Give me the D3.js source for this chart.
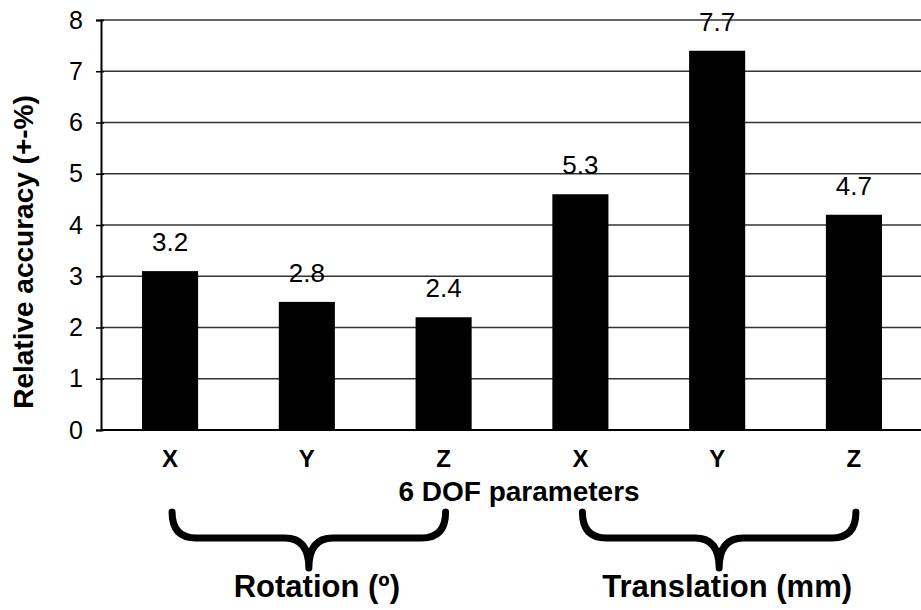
<!DOCTYPE html>
<html>
<head>
<meta charset="utf-8">
<script src="https://cdn.jsdelivr.net/npm/d3@7"></script>
<style>
  html, body { margin: 0; padding: 0; background: #fff; }
  svg text { fill: #000; }
</style>
</head>
<body>
<div id="chart"></div>
<script>
// 6 DOF parameters (rotation x/y/z, translation x/y/z)
const params = ['rotX', 'rotY', 'rotZ', 'transX', 'transY', 'transZ']
const axisLabels = ['X', 'Y', 'Z', 'X', 'Y', 'Z']
// bar heights as drawn, and the printed labels above them
const barValues = [3.1, 2.5, 2.2, 4.6, 7.4, 4.2]
const valueLabels = ['3.2', '2.8', '2.4', '5.3', '7.7', '4.7']
const yTicks = [0, 1, 2, 3, 4, 5, 6, 7, 8]
// parameter groups under the axis
const groupNames = ['Rotation (º)', 'Translation (mm)']
const groupFirst = ['rotX', 'transX']
const groupLast = ['rotZ', 'transZ']

const width = 921
const height = 610
const margin = { top: 20, right: 0, bottom: 180, left: 101 }
const font = '"Liberation Sans", Arial, sans-serif'

const svg = d3.select('#chart')
  .append('svg')
  .attr('width', width)
  .attr('height', height)

const x = d3.scaleBand()
  .domain(params)
  .range([margin.left, margin.left + 6 * 137])
  .paddingInner(0.59)
  .paddingOuter(0.3)

const y = d3.scaleLinear()
  .domain([0, 8])
  .range([height - margin.bottom, margin.top])

const center = d => x(d) + x.bandwidth() / 2

// 网格线
svg.append('g')
  .selectAll('line')
  .data(yTicks.filter(d => d > 0))
  .enter()
  .append('line')
  .attr('x1', margin.left)
  .attr('x2', width)
  .attr('y1', d => y(d))
  .attr('y2', d => y(d))
  .attr('stroke', '#333')
  .attr('stroke-width', 1.3)

// y轴
const yAxis = svg.append('g')
  .attr('transform', `translate(${margin.left},0)`)
  .call(d3.axisLeft(y).tickValues(yTicks).tickSize(5).tickPadding(13))
yAxis.select('.domain').attr('stroke', '#000').attr('stroke-width', 2)
yAxis.selectAll('.tick line')
  .attr('x1', 3)
  .attr('x2', -5)
  .attr('stroke', '#000')
  .attr('stroke-width', 1.5)
yAxis.selectAll('.tick text')
  .attr('fill', '#000')
  .style('font-family', font)
  .style('font-size', '25px')

// 柱子
svg.append('g')
  .selectAll('rect')
  .data(params)
  .enter()
  .append('rect')
  .attr('x', d => x(d))
  .attr('width', x.bandwidth())
  .attr('y', (d, i) => y(barValues[i]))
  .attr('height', (d, i) => y(0) - y(barValues[i]))
  .attr('fill', '#000')

// 柱顶数值
svg.append('g')
  .selectAll('text')
  .data(params)
  .enter()
  .append('text')
  .attr('x', center)
  .attr('y', (d, i) => y(barValues[i]) - 20)
  .attr('text-anchor', 'middle')
  .style('font-family', font)
  .style('font-size', '26px')
  .text((d, i) => valueLabels[i])

// 基线
svg.append('line')
  .attr('x1', margin.left)
  .attr('x2', width)
  .attr('y1', y(0))
  .attr('y2', y(0))
  .attr('stroke', '#000')
  .attr('stroke-width', 2)

// x轴标签
svg.append('g')
  .selectAll('text')
  .data(params)
  .enter()
  .append('text')
  .attr('x', center)
  .attr('y', y(0) + 37)
  .attr('text-anchor', 'middle')
  .style('font-family', font)
  .style('font-weight', 'bold')
  .style('font-size', '24px')
  .text((d, i) => axisLabels[i])

// x轴标题
svg.append('text')
  .attr('x', 519)
  .attr('y', 501)
  .attr('text-anchor', 'middle')
  .style('font-family', font)
  .style('font-weight', 'bold')
  .style('font-size', '28px')
  .text('6 DOF parameters')

// y轴标题
svg.append('text')
  .attr('transform', 'translate(33, 252) rotate(-90)')
  .attr('text-anchor', 'middle')
  .style('font-family', font)
  .style('font-weight', 'bold')
  .style('font-size', '28px')
  .text('Relative accuracy (+-%)')

// 分组括号
const braceTop = 512
const braceMid = 538
const braceTip = 568
const r = 24
function bracePath(x0, x1) {
  const m = (x0 + x1) / 2
  return `M${x0},${braceTop} Q${x0},${braceMid} ${x0 + r},${braceMid}` +
    ` L${m - r},${braceMid} Q${m},${braceMid} ${m},${braceTip}` +
    ` Q${m},${braceMid} ${m + r},${braceMid}` +
    ` L${x1 - r},${braceMid} Q${x1},${braceMid} ${x1},${braceTop}`
}

const groupsG = svg.append('g')
groupsG.selectAll('path')
  .data(groupNames)
  .enter()
  .append('path')
  .attr('d', (d, i) => bracePath(center(groupFirst[i]) + 2, center(groupLast[i]) + 2))
  .attr('fill', 'none')
  .attr('stroke', '#000')
  .attr('stroke-width', 7)
  .attr('stroke-linecap', 'round')
  .attr('stroke-linejoin', 'round')

groupsG.selectAll('text')
  .data(groupNames)
  .enter()
  .append('text')
  .attr('x', (d, i) => (center(groupFirst[i]) + center(groupLast[i])) / 2 + 10)
  .attr('y', 597)
  .attr('text-anchor', 'middle')
  .style('font-family', font)
  .style('font-weight', 'bold')
  .style('font-size', '31px')
  .text(d => d)
</script>
</body>
</html>
